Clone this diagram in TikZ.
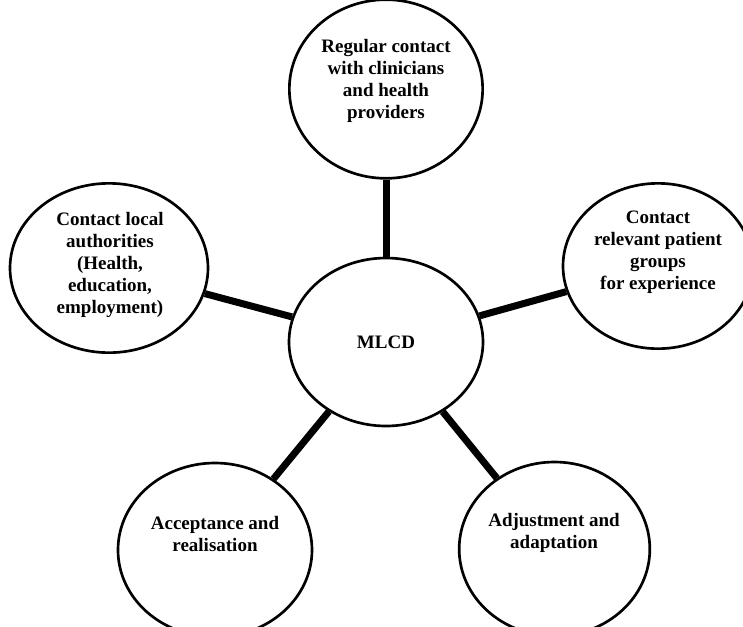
\documentclass[tikz,border=0pt]{standalone}
\usepackage{fontspec}
\setmainfont{Liberation Serif}
\usetikzlibrary{shapes.geometric}
\begin{document}
\begin{tikzpicture}[x=0.75pt,y=-0.75pt,
    bubble/.style={draw,ellipse,line width=2pt,inner sep=0pt},
    txt/.style={align=center,inner sep=0pt,font=\bfseries\fontsize{14.25pt}{16.5pt}\selectfont},
    link/.style={line width=5.25pt}]
  \useasboundingbox (0,0) rectangle (743,626);
  \node[bubble,minimum width=145.5pt,minimum height=126pt] (mlcd) at (386,342) {};
  \node[bubble,minimum width=145pt,minimum height=134pt] (clinic) at (386,89) {};
  \node[bubble,minimum width=148.5pt,minimum height=127pt] (local) at (109,268) {};
  \node[bubble,minimum width=142.5pt,minimum height=124pt] (patient) at (658,266) {};
  \node[bubble,minimum width=145.5pt,minimum height=130.5pt] (accept) at (215,550) {};
  \node[bubble,minimum width=143pt,minimum height=130.5pt] (adjust) at (554.5,549) {};
  \node[txt] (mlcdtxt) at (386,342) {MLCD};
  \node[txt] (clinictxt) at (386,81) {Regular contact\\with clinicians\\and health\\providers};
  \node[txt] (localtxt) at (110,265) {Contact local\\authorities\\(Health,\\education,\\employment)};
  \node[txt] (patienttxt) at (658,252.5) {Contact\\relevant patient\\groups\\for experience};
  \node[txt] (accepttxt) at (215,534) {Acceptance and\\realisation};
  \node[txt] (adjusttxt) at (554,532.5) {Adjustment and\\adaptation};
  \draw[link] (mlcd) -- (clinic);
  \draw[link] (mlcd) -- (local);
  \draw[link] (mlcd) -- (patient);
  \draw[link] (mlcd) -- (accept);
  \draw[link] (mlcd) -- (adjust);
\end{tikzpicture}
\end{document}
